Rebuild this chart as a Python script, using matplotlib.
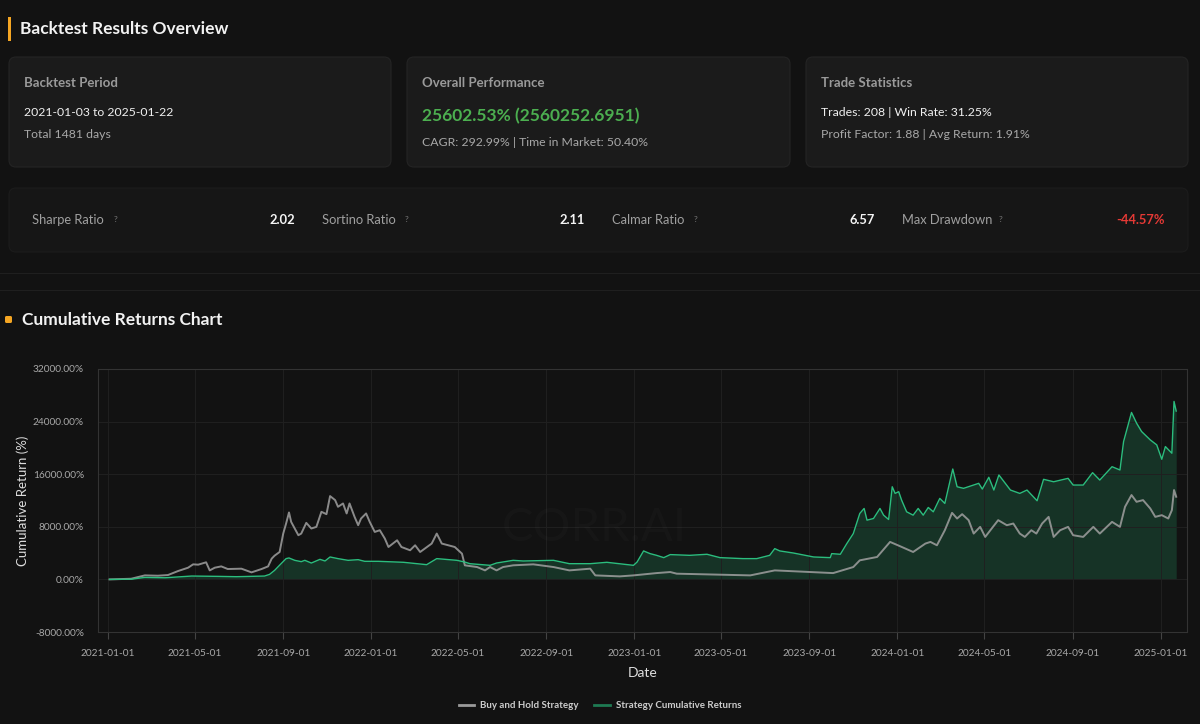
import matplotlib
matplotlib.use("Agg")
import matplotlib.pyplot as plt
import matplotlib.dates as mdates
from matplotlib.patches import FancyBboxPatch, Rectangle
from matplotlib.lines import Line2D
import pandas as pd

plt.rcParams['font.family'] = ['Lato', 'DejaVu Sans']

BG = '#121212'
CARD = '#1b1b1b'
GREEN = '#2bbd7e'
GRAY = '#a0a0a0'

# buy and hold cumulative return (%)
bh_dates = [
    '2021-01-03', '2021-02-02', '2021-02-21', '2021-03-11', '2021-03-25', '2021-04-08',
    '2021-04-22', '2021-04-29', '2021-05-06', '2021-05-17', '2021-05-22', '2021-05-29',
    '2021-06-07', '2021-06-16', '2021-07-05', '2021-07-19', '2021-08-02', '2021-08-11',
    '2021-08-16', '2021-08-20', '2021-08-27', '2021-09-01', '2021-09-05', '2021-09-09',
    '2021-09-12', '2021-09-22', '2021-09-26', '2021-10-03', '2021-10-10', '2021-10-17',
    '2021-10-24', '2021-10-31', '2021-11-05', '2021-11-12', '2021-11-16', '2021-11-23',
    '2021-11-28', '2021-12-02', '2021-12-09', '2021-12-14', '2021-12-18', '2021-12-25',
    '2021-12-30', '2022-01-06', '2022-01-13', '2022-01-20', '2022-01-25', '2022-02-06',
    '2022-02-12', '2022-02-24', '2022-03-03', '2022-03-10', '2022-03-26', '2022-04-02',
    '2022-04-09', '2022-04-27', '2022-05-07', '2022-05-11', '2022-05-28', '2022-06-08',
    '2022-06-15', '2022-06-24', '2022-07-03', '2022-07-17', '2022-08-14', '2022-09-11',
    '2022-10-03', '2022-11-01', '2022-11-08', '2022-12-12', '2022-12-31', '2023-02-01',
    '2023-02-20', '2023-03-01', '2023-06-11', '2023-07-15', '2023-10-04', '2023-11-01',
    '2023-11-10', '2023-12-04', '2023-12-22', '2024-01-05', '2024-01-23', '2024-02-09',
    '2024-02-16', '2024-02-25', '2024-03-07', '2024-03-17', '2024-03-24', '2024-03-31',
    '2024-04-09', '2024-04-16', '2024-04-25', '2024-05-02', '2024-05-11', '2024-05-20',
    '2024-06-01', '2024-06-10', '2024-06-19', '2024-06-26', '2024-07-05', '2024-07-12',
    '2024-07-20', '2024-07-29', '2024-08-05', '2024-08-14', '2024-08-25', '2024-09-01',
    '2024-09-15', '2024-09-29', '2024-10-08', '2024-10-25', '2024-11-05', '2024-11-12',
    '2024-11-21', '2024-11-28', '2024-12-07', '2024-12-17', '2024-12-24', '2025-01-02',
    '2025-01-11', '2025-01-16', '2025-01-19', '2025-01-22',
]
bh_values = [
    0, 100, 611, 560, 660, 1270,
    1780, 2290, 2240, 2600, 1370, 1780,
    1980, 1580, 1630, 1070, 1580, 1980,
    3160, 3610, 4170, 6970, 8500, 10180,
    8750, 6720, 6970, 8600, 7740, 7990,
    10280, 9920, 12670, 12060, 11040, 11550,
    10030, 11550, 9510, 8240, 9260, 10030,
    8750, 7220, 7480, 6210, 4930, 5950,
    4930, 4430, 5190, 4170, 5450, 6970,
    5450, 4930, 3920, 2140, 1880, 1370,
    1880, 1370, 1880, 2140, 2290, 1880,
    1370, 1630, 611, 460, 611, 960,
    1120, 870, 611, 1370, 960, 1880,
    2900, 3410, 5700, 5040, 4170, 5450,
    5700, 5190, 7480, 10120, 9260, 9920,
    9010, 6970, 7990, 6460, 7740, 9010,
    8240, 8500, 6970, 6460, 7480, 6970,
    8500, 9510, 6460, 7480, 7990, 6720,
    6460, 7990, 6970, 8750, 7990, 11040,
    12830, 11800, 12060, 10790, 9510, 9770,
    9260, 10530, 13590, 12570,
]

# strategy cumulative return (%)
strat_dates = [
    '2021-01-03', '2021-02-02', '2021-02-21', '2021-03-21', '2021-04-27', '2021-06-03',
    '2021-06-28', '2021-08-06', '2021-08-13', '2021-08-20', '2021-08-29', '2021-09-05',
    '2021-09-09', '2021-09-17', '2021-09-26', '2021-10-01', '2021-10-10', '2021-10-22',
    '2021-10-29', '2021-11-05', '2021-11-16', '2021-11-30', '2021-12-14', '2021-12-23',
    '2022-01-11', '2022-02-15', '2022-03-19', '2022-04-02', '2022-04-30', '2022-05-11',
    '2022-05-18', '2022-06-15', '2022-06-24', '2022-07-17', '2022-07-31', '2022-09-11',
    '2022-10-03', '2022-11-01', '2022-11-24', '2022-12-31', '2023-01-05', '2023-01-14',
    '2023-01-23', '2023-02-01', '2023-02-11', '2023-02-20', '2023-03-19', '2023-04-12',
    '2023-04-30', '2023-06-01', '2023-06-20', '2023-07-08', '2023-07-15', '2023-07-22',
    '2023-08-10', '2023-09-07', '2023-09-30', '2023-10-02', '2023-10-14', '2023-10-23',
    '2023-11-01', '2023-11-10', '2023-11-16', '2023-11-20', '2023-11-29', '2023-12-08',
    '2023-12-13', '2023-12-20', '2023-12-25', '2023-12-29', '2024-01-03', '2024-01-07',
    '2024-01-14', '2024-01-23', '2024-01-30', '2024-02-06', '2024-02-13', '2024-02-20',
    '2024-02-29', '2024-03-07', '2024-03-18', '2024-03-24', '2024-04-02', '2024-04-23',
    '2024-04-28', '2024-05-07', '2024-05-14', '2024-05-21', '2024-06-06', '2024-06-19',
    '2024-06-29', '2024-07-13', '2024-07-22', '2024-08-05', '2024-08-25', '2024-09-01',
    '2024-09-15', '2024-09-28', '2024-10-08', '2024-10-25', '2024-11-05', '2024-11-10',
    '2024-11-21', '2024-11-28', '2024-12-05', '2024-12-17', '2024-12-26', '2025-01-02',
    '2025-01-07', '2025-01-16', '2025-01-19', '2025-01-22',
]
strat_values = [
    0, 30, 305, 250, 510, 460,
    410, 510, 760, 1370, 2390, 3160,
    3260, 2900, 2700, 2900, 2490, 3050,
    2800, 3410, 3160, 2900, 3000, 2750,
    2750, 2600, 2240, 3160, 2900, 2640,
    2390, 2140, 2490, 2900, 2800, 2900,
    2390, 2390, 2600, 2140, 2640, 4330,
    3920, 3660, 3310, 3770, 3660, 3820,
    3310, 3160, 3160, 3660, 4680, 4330,
    4010, 3410, 3310, 3920, 3820, 5450,
    6970, 10030, 10790, 9010, 9260, 10790,
    9770, 9110, 14090, 13080, 13340, 12060,
    10280, 9770, 10790, 9770, 10940, 10280,
    12320, 11550, 16790, 14090, 13850, 14610,
    13740, 15530, 13590, 15880, 13590, 13080,
    13590, 11960, 15220, 14850, 15370, 14350,
    14350, 16230, 15110, 17140, 16640, 20960,
    25390, 23770, 22490, 21220, 20460, 18270,
    20200, 19190, 27070, 25600,
]

y_ticks = [-8000, 0, 8000, 16000, 24000, 32000]

bh = pd.Series(bh_values, index=pd.to_datetime(bh_dates))
strat = pd.Series(strat_values, index=pd.to_datetime(strat_dates))

fig = plt.figure(figsize=(12, 7.24), dpi=100, facecolor=BG)

# page layer in pixel coordinates
bg = fig.add_axes([0, 0, 1, 1])
bg.set_xlim(0, 1200)
bg.set_ylim(724, 0)
bg.axis('off')


def card(x0, y0, x1, y1, fc, ec):
    bg.add_patch(FancyBboxPatch((x0, y0), x1 - x0, y1 - y0,
                                boxstyle='round,pad=0,rounding_size=7',
                                fc=fc, ec=ec, lw=0.8))


bg.add_patch(Rectangle((8, 17), 3, 24, fc='#f5a623', ec='none'))
bg.text(20, 29, 'Backtest Results Overview', color='#f2f2f2', fontsize=12.5,
        fontweight='bold', va='center')

cards = [
    (9, 391, 'Backtest Period', '2021-01-03 to 2025-01-22', 'Total 1481 days'),
    (407, 790, 'Overall Performance', '25602.53% (2560252.6951)',
     'CAGR: 292.99% | Time in Market: 50.40%'),
    (806, 1188, 'Trade Statistics', 'Trades: 208 | Win Rate: 31.25%',
     'Profit Factor: 1.88 | Avg Return: 1.91%'),
]
for i, (x0, x1, head, line1, line2) in enumerate(cards):
    card(x0, 57, x1, 167, CARD, '#242424')
    bg.text(x0 + 15, 83, head, color='#9a9a9a', fontsize=9.5, fontweight='bold', va='center')
    if i == 1:
        bg.text(x0 + 15, 116, line1, color='#4caf50', fontsize=12.5,
                fontweight='bold', va='center')
        bg.text(x0 + 15, 143, line2, color='#a8a8a8', fontsize=8.8, va='center')
    else:
        bg.text(x0 + 15, 112, line1, color='#f0f0f0', fontsize=8.8, va='center')
        bg.text(x0 + 15, 134, line2, color='#a8a8a8', fontsize=8.8, va='center')

# metrics strip
card(9, 188, 1188, 252, '#161616', '#1c1c1c')
metrics = [('Sharpe Ratio', '2.02', 32, 114, 295, '#f5f5f5'),
           ('Sortino Ratio', '2.11', 322, 405, 585, '#f5f5f5'),
           ('Calmar Ratio', '6.57', 612, 694, 875, '#f5f5f5'),
           ('Max Drawdown', '-44.57%', 902, 999, 1165, '#e53935')]
for name, val, xn, xq, xv, vc in metrics:
    bg.text(xn, 220, name, color='#a0a0a0', fontsize=9.3, va='center')
    bg.text(xq, 220, '?', color='#777777', fontsize=6, va='center')
    bg.text(xv, 220, val, color=vc, fontsize=9.3, fontweight='bold', va='center', ha='right')

bg.plot([0, 1200], [273, 273], color='#1f1f1f', lw=0.8)
bg.plot([0, 1200], [290, 290], color='#1f1f1f', lw=0.8)

bg.add_patch(FancyBboxPatch((5, 316), 7, 7, boxstyle='round,pad=0,rounding_size=1.5',
                            fc='#f5a623', ec='none'))
bg.text(22, 320, 'Cumulative Returns Chart', color='#f2f2f2', fontsize=12.5,
        fontweight='bold', va='center')

# chart
ax = fig.add_axes([98 / 1200, (724 - 632) / 724, (1187 - 98) / 1200, (632 - 369) / 724])
ax.set_facecolor('none')

ax.fill_between(strat.index, 0, strat.values, color='#1d6b48', alpha=0.38, lw=0)
ax.plot(bh.index, bh.values, color=GRAY, lw=1.4, alpha=0.85)
ax.plot(strat.index, strat.values, color=GREEN, lw=1.0)

ax.set_xlim(pd.Timestamp('2020-12-18'), pd.Timestamp('2025-02-06'))
ax.set_ylim(-8000, 32000)
ax.set_yticks(y_ticks)
ax.yaxis.set_major_formatter(plt.FuncFormatter(lambda v, p: f'{v:.2f}%'))
ax.xaxis.set_major_locator(mdates.MonthLocator(bymonth=[1, 5, 9]))
ax.xaxis.set_major_formatter(mdates.DateFormatter('%Y-%m-%d'))

ax.grid(True, color='#202020', lw=0.7)
for s in ax.spines.values():
    s.set_color('#333333')
ax.tick_params(axis='x', colors='#444444', labelcolor='#a8a8a8', labelsize=7.3, length=5, pad=7)
ax.tick_params(axis='y', length=0, labelcolor='#a8a8a8', labelsize=7.3, pad=10)
ax.set_xlabel('Date', color='#dddddd', fontsize=10, labelpad=7)
ax.set_ylabel('Cumulative Return (%)', color='#dddddd', fontsize=9.5, labelpad=3)

ax.text(0.456, 0.397, 'CORR.AI', transform=ax.transAxes, color='#ffffff', alpha=0.018,
        fontsize=34, ha='center', va='center')

handles = [Line2D([], [], color='#9a9a9a', lw=2),
           Line2D([], [], color='#1e7a52', lw=2)]
leg = fig.legend(handles, ['Buy and Hold Strategy', 'Strategy Cumulative Returns'],
                 loc='center', bbox_to_anchor=(600 / 1200, 1 - 706 / 724), ncol=2,
                 frameon=False, fontsize=7, handlelength=1.6, columnspacing=1.6,
                 handletextpad=0.6)
for t in leg.get_texts():
    t.set_color('#cccccc')
    t.set_fontweight('bold')

fig.savefig('out.png', dpi=100, facecolor=BG)
